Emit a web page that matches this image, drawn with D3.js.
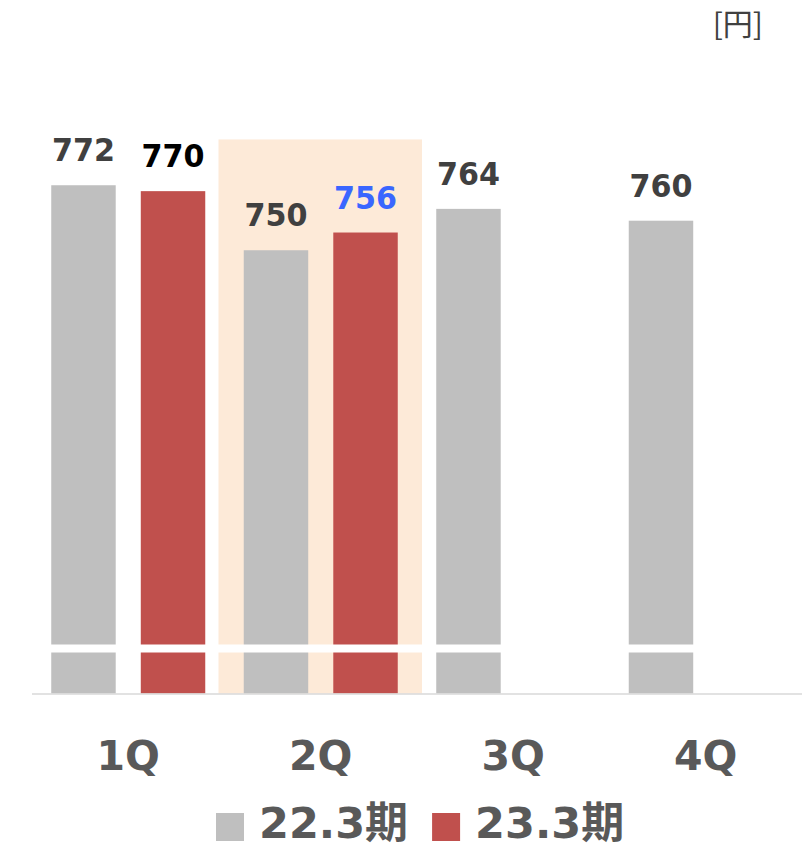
<!DOCTYPE html>
<html><head><meta charset="utf-8">
<script src="https://cdn.jsdelivr.net/npm/d3@7"></script>
<style>body{margin:0;background:#fff}svg{display:block}</style>
</head><body>
<svg id="chart" width="806" height="849"></svg>
<script>
const categories = ["1Q","2Q","3Q","4Q"];
const seriesNames = ["22.3期","23.3期"];
const values22 = [772, 750, 764, 760];
const values23 = [770, 756, null, null];
const labelColors22 = ["#404040","#404040","#404040","#404040"];
const labelColors23 = ["#000000","#3a66ff",null,null];
const seriesColors = ["#bfbfbf","#c0504d"];
const highlightCategory = "2Q";
const unitLabel = "[円]";

const svg = d3.select("#chart");
const baseY = 693.5;
const x0 = d3.scaleBand().domain(categories).range([32, 802]).padding(0);
const x1 = d3.scaleBand().domain(seriesNames).range([0, x0.bandwidth()]).paddingInner(0.28).paddingOuter(0.215);
const y = d3.scaleLinear().domain([600, 780]).range([baseY, 161.6]);

// highlight
svg.append("rect")
  .attr("x", x0(highlightCategory) - 6)
  .attr("y", y(787.5))
  .attr("width", x0.bandwidth() + 11)
  .attr("height", baseY - y(787.5))
  .attr("fill", "#fdead8");

const rows = [];
categories.forEach((c, i) => {
  rows.push({cat: c, s: seriesNames[0], v: values22[i], lc: labelColors22[i], col: seriesColors[0]});
  if (values23[i] != null) rows.push({cat: c, s: seriesNames[1], v: values23[i], lc: labelColors23[i], col: seriesColors[1]});
});

svg.selectAll("rect.bar").data(rows).enter().append("rect")
  .attr("class", "bar")
  .attr("x", d => x0(d.cat) + x1(d.s))
  .attr("y", d => y(d.v))
  .attr("width", x1.bandwidth())
  .attr("height", d => baseY - y(d.v))
  .attr("fill", d => d.col);

// axis break band
svg.append("rect").attr("x", 32).attr("y", 644.5).attr("width", 770).attr("height", 8).attr("fill", "#fff");

// baseline axis
svg.append("line").attr("x1", 32).attr("x2", 802).attr("y1", baseY + 0.5).attr("y2", baseY + 0.5)
  .attr("stroke", "#d9d9d9").attr("stroke-width", 1.6);

// value labels
svg.selectAll("text.val").data(rows).enter().append("text")
  .attr("class", "val")
  .attr("x", d => x0(d.cat) + x1(d.s) + x1.bandwidth() / 2)
  .attr("y", d => y(d.v) - 24)
  .attr("text-anchor", "middle")
  .attr("font-family", "'DejaVu Sans', Verdana, sans-serif")
  .attr("font-weight", "bold")
  .attr("font-size", 32)
  .attr("textLength", 63)
  .attr("lengthAdjust", "spacingAndGlyphs")
  .attr("fill", d => d.lc)
  .text(d => d.v);

// category labels
const xAxis = d3.axisBottom(x0).tickSize(0).tickPadding(0);
const gx = svg.append("g").attr("transform", `translate(0,${baseY})`).call(xAxis);
gx.select(".domain").remove();
gx.selectAll("text")
  .attr("y", 76).attr("dy", 0)
  .attr("font-family", "'DejaVu Sans', Verdana, sans-serif")
  .attr("font-weight", "bold")
  .attr("font-size", 41)
  .attr("fill", "#595959");

// legend
const legend = svg.append("g");
let lx = 216;
seriesNames.forEach((s, i) => {
  legend.append("rect").attr("x", lx).attr("y", 813).attr("width", 28).attr("height", 28).attr("fill", seriesColors[i]);
  const t = legend.append("text").attr("x", lx + 43).attr("y", 838)
    .attr("font-family", "'DejaVu Sans', 'Noto Sans CJK JP', sans-serif")
    .attr("font-weight", "bold").attr("font-size", 43).attr("fill", "#595959").text(s);
  lx = lx + 43 + t.node().getComputedTextLength() + 24;
});

// unit
svg.append("text").attr("x", 763).attr("y", 35).attr("text-anchor", "end")
  .attr("font-family", "'Noto Sans CJK JP', sans-serif").attr("font-size", 30).attr("fill", "#404040")
  .text(unitLabel);
</script>
</body></html>
